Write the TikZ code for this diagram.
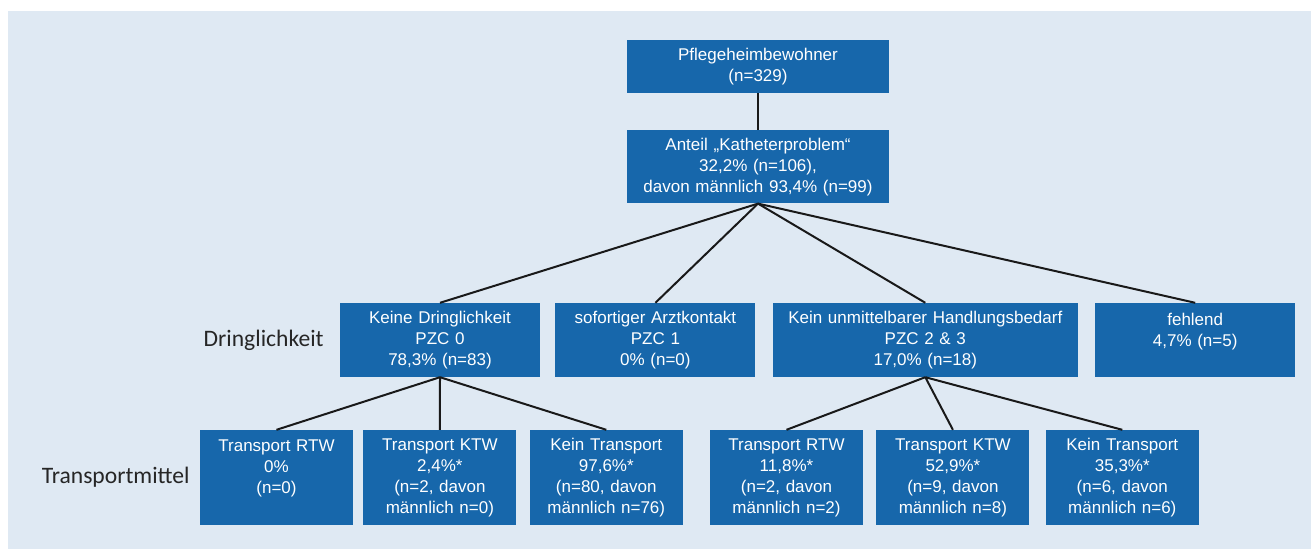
\documentclass[tikz,border=0pt]{standalone}
\usepackage{fontspec}
\setmainfont{Liberation Sans}
\newfontfamily\labelfont{Carlito}
\usepackage{xcolor}
\usepackage{tikz}
\usetikzlibrary{positioning}
\definecolor{boxblue}{RGB}{23,103,171}
\definecolor{panelblue}{RGB}{223,233,243}
\tikzstyle{block} = [rectangle, fill=boxblue, text=white, align=center, inner sep=0pt, font=\fontsize{17}{21}\selectfont]
\tikzstyle{upper} = [block, text width=262pt]
\tikzstyle{middle} = [block, text width=200pt, minimum height=74pt]
\tikzstyle{lower} = [block, text width=153pt, minimum height=95pt]
\tikzstyle{rowlabel} = [inner sep=0pt, text=black!85, font=\labelfont\fontsize{23.6}{28}\selectfont]
\tikzstyle{link} = [line width=2pt, black!90]
\begin{document}
\begin{tikzpicture}[node distance=13pt]

\useasboundingbox (0,0) rectangle (1311pt,-549pt);
\fill[panelblue] (8pt,-11pt) rectangle (1311pt,-549pt);

\node[upper, minimum height=53pt] (bewohner) at (758pt,-66.5pt) {Pflegeheimbewohner\\(n=329)};
\node[upper, minimum height=73pt, below=37pt of bewohner] (katheter) {Anteil „Katheterproblem“\\32,2\% (n=106),\\davon männlich 93,4\% (n=99)};

% Dringlichkeit row
\node[middle] (keine) at (440pt,-340pt) {Keine Dringlichkeit\\PZC 0\\78,3\% (n=83)};
\node[middle, right=15pt of keine] (sofort) {sofortiger Arztkontakt\\PZC 1\\0\% (n=0)};
\node[middle, text width=305pt, right=17pt of sofort] (unmittelbar) {Kein unmittelbarer Handlungsbedarf\\PZC 2 \& 3\\17,0\% (n=18)};
\node[middle, right=17pt of unmittelbar] (fehlend) {fehlend\\4,7\% (n=5)\\~};

% Transportmittel row
\node[lower] (rtwA) at (276.5pt,-477.5pt) {Transport RTW\\0\%\\(n=0)\\~};
\node[lower, right=10pt of rtwA] (ktwA) {Transport KTW\\2,4\%*\\(n=2, davon\\männlich n=0)};
\node[lower, right=of ktwA] (ohneA) {Kein Transport\\97,6\%*\\(n=80, davon\\männlich n=76)};

\node[lower] (rtwB) at (786.5pt,-477.5pt) {Transport RTW\\11,8\%*\\(n=2, davon\\männlich n=2)};
\node[lower, right=of rtwB] (ktwB) {Transport KTW\\52,9\%*\\(n=9, davon\\männlich n=8)};
\node[lower, right=16pt of ktwB] (ohneB) {Kein Transport\\35,3\%*\\(n=6, davon\\männlich n=6)};

% row labels
\node[rowlabel, left=16pt of keine] (dringlabel) {Dringlichkeit};
\node[rowlabel, left=10pt of rtwA] (transportlabel) {Transportmittel};

% links
\draw[link] (bewohner) -- (katheter);
\draw[link] (katheter.south) -- (keine.north);
\draw[link] (katheter.south) -- (sofort.north);
\draw[link] (katheter.south) -- (unmittelbar.north);
\draw[link] (katheter.south) -- (fehlend.north);

\draw[link] (keine.south) -- (rtwA.north);
\draw[link] (keine.south) -- (ktwA.north);
\draw[link] (keine.south) -- (ohneA.north);

\draw[link] (unmittelbar.south) -- (rtwB.north);
\draw[link] (unmittelbar.south) -- (ktwB.north);
\draw[link] (unmittelbar.south) -- (ohneB.north);

\end{tikzpicture}
\end{document}
